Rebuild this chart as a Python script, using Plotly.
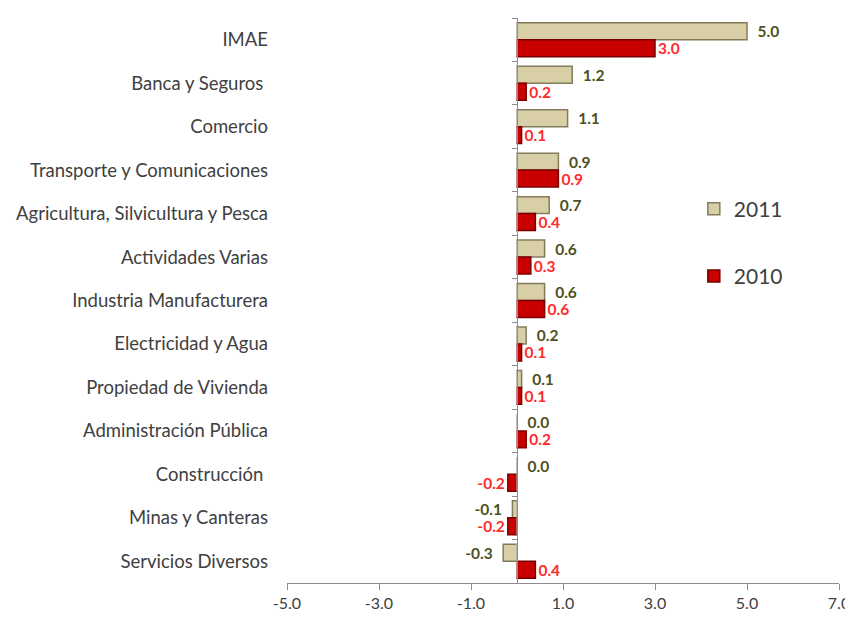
import plotly.graph_objects as go

categories = ["IMAE", "Banca y Seguros ", "Comercio", "Transporte y Comunicaciones",
              "Agricultura, Silvicultura y Pesca", "Actividades Varias",
              "Industria Manufacturera", "Electricidad y Agua", "Propiedad de Vivienda",
              "Administración Pública", "Construcción ", "Minas y Canteras",
              "Servicios Diversos"]
values_2011 = [5.0, 1.2, 1.1, 0.9, 0.7, 0.6, 0.6, 0.2, 0.1, 0.0, 0.0, -0.1, -0.3]
values_2010 = [3.0, 0.2, 0.1, 0.9, 0.4, 0.3, 0.6, 0.1, 0.1, 0.2, -0.2, -0.2, 0.4]
x_ticks = [-5, -3, -1, 1, 3, 5, 7]

FONT = "Lato, 'Liberation Sans', sans-serif"


def label(v, pad):
    s = f"{v:.1f}"
    return s + pad if v < 0 else pad + s


fig = go.Figure()
fig.add_trace(go.Bar(
    y=categories, x=values_2011, orientation="h", name="2011", legendgroup="a",
    marker=dict(color="#D8CFA6", line=dict(color="#827C5C", width=1.5)),
    text=[label(v, "  ") for v in values_2011], textposition="outside",
    cliponaxis=False, constraintext="none",
    textfont=dict(family=FONT, size=15.5, color="#4F5020", weight="bold"),
))
fig.add_trace(go.Bar(
    y=categories, x=values_2010, orientation="h", name="2010", legendgroup="b",
    marker=dict(color="#C80000", line=dict(color="#7A0000", width=1.5)),
    text=[label(v, "") for v in values_2010], textposition="outside",
    cliponaxis=False, constraintext="none",
    textfont=dict(family=FONT, size=15.5, color="#FF2A2A", weight="bold"),
))
# invisible trace carrying the category axis drawn at x = 0
fig.add_trace(go.Bar(y=categories, x=[0] * len(categories), orientation="h",
                     yaxis="y2", showlegend=False, hoverinfo="skip",
                     marker=dict(color="rgba(0,0,0,0)")))

# page body has an 8px default margin, so the figure is sized to fill the rest
fig.update_layout(
    width=845, height=606,
    margin=dict(l=279, r=14, t=10, b=31, autoexpand=False),
    paper_bgcolor="white", plot_bgcolor="white",
    barmode="group", bargap=0.22, bargroupgap=0,
    font=dict(family=FONT, size=15, color="#404040"),
    xaxis=dict(range=[-5, 7], tickvals=x_ticks, ticktext=[f"{v:.1f}" for v in x_ticks],
               showgrid=False, zeroline=False, showline=True, linecolor="#8C8C8C",
               linewidth=1, ticks="outside", ticklen=6, tickcolor="#8C8C8C",
               automargin=False, tickfont=dict(size=16, color="#404040")),
    yaxis=dict(autorange="reversed", showgrid=False, zeroline=False, showline=False,
               ticks="", tickfont=dict(size=18.5, color="#404040"),
               automargin=False, ticklabelstandoff=18),
    yaxis2=dict(overlaying="y", matches="y", anchor="free", position=5 / 12,
                showline=True, linecolor="#8C8C8C", linewidth=1, ticks="outside",
                ticklen=5, tickcolor="#8C8C8C", tickson="boundaries", automargin=False,
                showticklabels=False, showgrid=False, zeroline=False),
    legend=dict(x=0.737, y=0.698, xanchor="left", yanchor="top", traceorder="grouped",
                tracegroupgap=37, font=dict(size=21, color="#404040"),
                itemwidth=30, bgcolor="rgba(0,0,0,0)"),
)

fig.write_html("out.html")
